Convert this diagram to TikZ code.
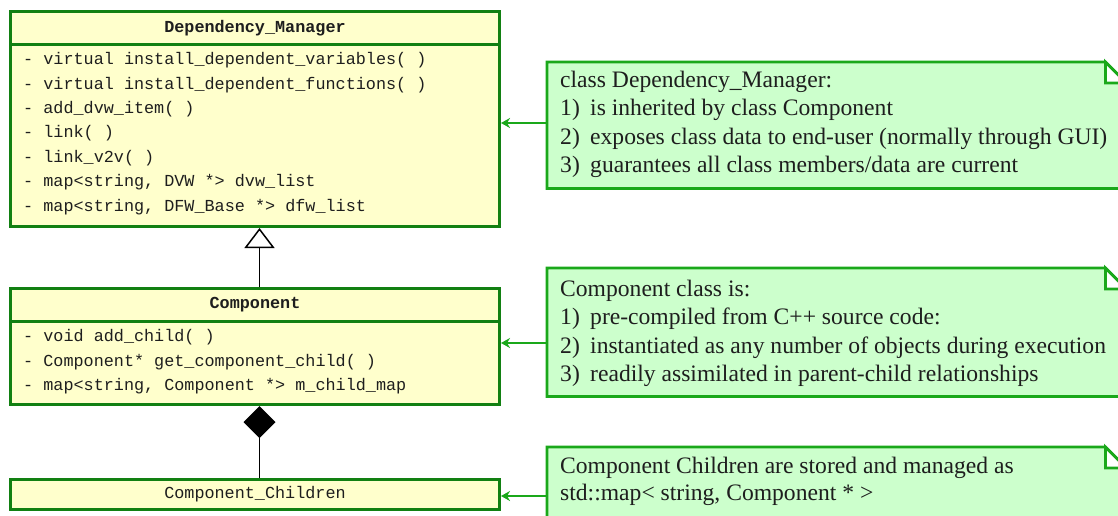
\documentclass[tikz,border=0pt]{standalone}
\usepackage{fontspec}
\setmainfont{Liberation Serif}
\newfontfamily\umlmono{Liberation Mono}
\usetikzlibrary{arrows.meta}
\definecolor{clsborder}{RGB}{18,128,18}
\definecolor{clsfill}{RGB}{255,255,204}
\definecolor{noteborder}{RGB}{26,168,26}
\definecolor{notefill}{RGB}{204,255,204}
\definecolor{ink}{RGB}{30,30,30}
\begin{document}
\begin{tikzpicture}[x=1pt,y=-1pt,
  clsbox/.style={draw=clsborder, fill=clsfill, line width=3pt, rectangle,
    minimum width=489pt, anchor=north west, inner sep=0pt,
    font=\umlmono\fontsize{16.8}{20}\selectfont, text=ink},
  monoline/.style={font=\umlmono\fontsize{16.8}{20}\selectfont, text=ink,
    anchor=west, inner sep=0pt, text height=11pt, text depth=3pt},
  noteshape/.style={draw=noteborder, fill=notefill, line width=2.8pt, line join=miter},
  notefold/.style={draw=noteborder, fill=white, line width=2.8pt, line join=miter},
  noteline/.style={font=\fontsize{23.6}{28}\selectfont, text=ink,
    anchor=west, inner sep=0pt, text height=16pt, text depth=5pt},
  notearrow/.style={draw=noteborder, line width=2.8pt, -{Stealth[length=9pt,width=10pt]}},
  inherit/.style={draw=black, line width=1.5pt, -{Triangle[length=20pt,width=30pt,fill=white]}},
  compose/.style={draw=black, line width=1.5pt, -{Diamond[length=32pt,width=32pt]}},
]
\useasboundingbox (0,0) rectangle (1118,515);
\clip (0,0) rectangle (1118,515);
\fill[white] (0,0) rectangle (1118,515);

% ---------- class Dependency_Manager ----------
\node[clsbox, minimum height=33pt] (dmh) at (9,10) {\bfseries Dependency\_Manager};
\node[clsbox, minimum height=182pt] (dmb) at (9,43) {};
\node[monoline] (dm1) at (23,60)  {- virtual install\_dependent\_variables( )};
\node[monoline] (dm2) at (23,85)  {- virtual install\_dependent\_functions( )};
\node[monoline] (dm3) at (23,109) {- add\_dvw\_item( )};
\node[monoline] (dm4) at (23,133) {- link( )};
\node[monoline] (dm5) at (23,158) {- link\_v2v( )};
\node[monoline] (dm6) at (23,182) {- map<string, DVW *> dvw\_list};
\node[monoline] (dm7) at (23,207) {- map<string, DFW\_Base *> dfw\_list};

% ---------- class Component ----------
\node[clsbox, minimum height=33pt] (ch) at (9,287) {\bfseries Component};
\node[clsbox, minimum height=83pt] (cb) at (9,320) {};
\node[monoline] (c1) at (23,337) {- void add\_child( )};
\node[monoline] (c2) at (23,362) {- Component* get\_component\_child( )};
\node[monoline] (c3) at (23,386) {- map<string, Component *> m\_child\_map};

% ---------- class Component_Children ----------
\node[clsbox, minimum height=30pt] (cc) at (9,478) {Component\_Children};

% ---------- relations ----------
\draw[inherit] ([xshift=4.5pt]ch.north) -- ([xshift=4.5pt]dmb.south);
\draw[compose] ([xshift=4.5pt]cc.north) -- ([xshift=4.5pt]cb.south);

% ---------- note 1 ----------
\node[inner sep=0pt, minimum width=579pt, minimum height=126pt, anchor=north west] (n1) at (547,62) {};
\draw[noteshape] (n1.north west) -- ([xshift=-21pt]n1.north east) -- ([yshift=-21pt]n1.north east)
  -- (n1.south east) -- (n1.south west) -- cycle;
\draw[notefold] ([xshift=-21pt]n1.north east) -- ([xshift=-21pt,yshift=-21pt]n1.north east)
  -- ([yshift=-21pt]n1.north east) -- cycle;
\node[noteline] (n1a) at (560,82)  {class Dependency\_Manager:};
\node[noteline] (n1b) at (560,110) {\makebox[30pt][l]{1)}is inherited by class Component};
\node[noteline] (n1c) at (560,139) {\makebox[30pt][l]{2)}exposes class data to end-user (normally through GUI)};
\node[noteline] (n1d) at (560,167) {\makebox[30pt][l]{3)}guarantees all class members/data are current};
\coordinate (a1) at (547,123);
\draw[notearrow] (a1) -- (a1 -| dmb.east);

% ---------- note 2 ----------
\node[inner sep=0pt, minimum width=579pt, minimum height=128pt, anchor=north west] (n2) at (547,268) {};
\draw[noteshape] (n2.north west) -- ([xshift=-21pt]n2.north east) -- ([yshift=-21pt]n2.north east)
  -- (n2.south east) -- (n2.south west) -- cycle;
\draw[notefold] ([xshift=-21pt]n2.north east) -- ([xshift=-21pt,yshift=-21pt]n2.north east)
  -- ([yshift=-21pt]n2.north east) -- cycle;
\node[noteline] (n2a) at (560,291) {Component class is:};
\node[noteline] (n2b) at (560,319) {\makebox[30pt][l]{1)}pre-compiled from C++ source code:};
\node[noteline] (n2c) at (560,348) {\makebox[30pt][l]{2)}instantiated as any number of objects during execution};
\node[noteline] (n2d) at (560,376) {\makebox[30pt][l]{3)}readily assimilated in parent-child relationships};
\coordinate (a2) at (547,343);
\draw[notearrow] (a2) -- (a2 -| cb.east);

% ---------- note 3 ----------
\node[inner sep=0pt, minimum width=579pt, minimum height=100pt, anchor=north west] (n3) at (547,447) {};
\draw[noteshape] (n3.north west) -- ([xshift=-21pt]n3.north east) -- ([yshift=-21pt]n3.north east)
  -- (n3.south east) -- (n3.south west) -- cycle;
\draw[notefold] ([xshift=-21pt]n3.north east) -- ([xshift=-21pt,yshift=-21pt]n3.north east)
  -- ([yshift=-21pt]n3.north east) -- cycle;
\node[noteline] (n3a) at (560,468) {Component Children are stored and managed as};
\node[noteline] (n3b) at (560,495) {std::map< string, Component * >};
\coordinate (a3) at (547,496);
\draw[notearrow] (a3) -- (a3 -| cc.east);
\end{tikzpicture}
\end{document}
